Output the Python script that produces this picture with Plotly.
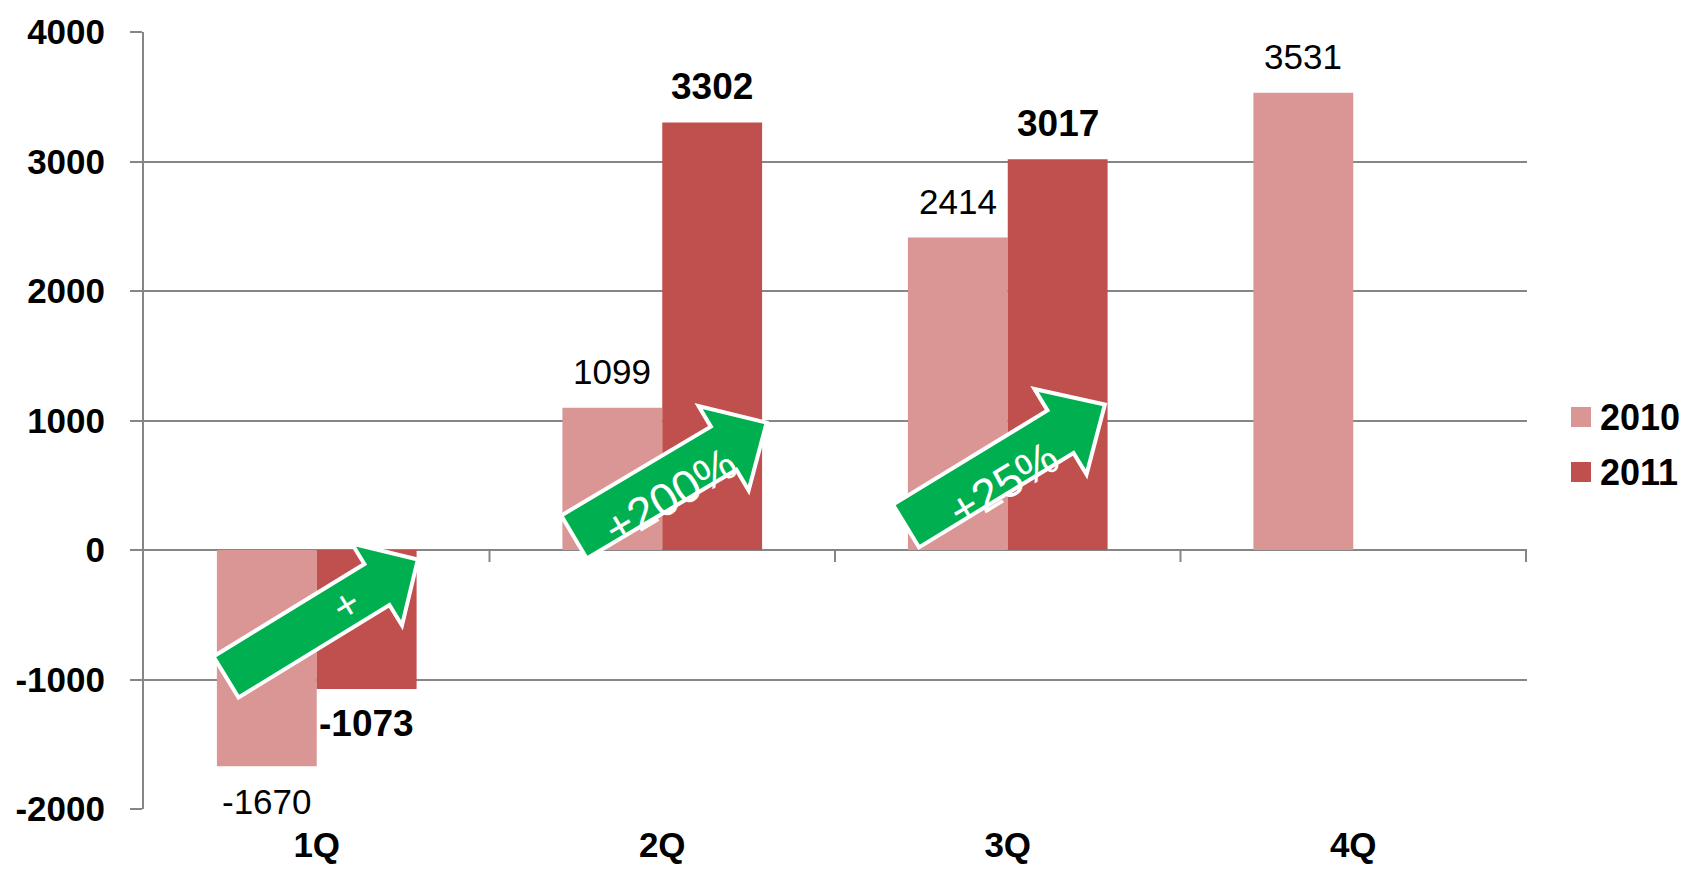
import math
import plotly.graph_objects as go

# ---- data ----
categories = ["1Q", "2Q", "3Q", "4Q"]
series_names = ["2010", "2011"]
values_2010 = [-1670, 1099, 2414, 3531]
values_2011 = [-1073, 3302, 3017, None]
arrow_labels = ["+", "+200%", "+25%"]
y_ticks = [-2000, -1000, 0, 1000, 2000, 3000, 4000]

# ---- style ----
W, H = 1688, 869
PL, PR, PT, PB = 144, 1527, 32, 809
FONT = "Liberation Sans, Arial, sans-serif"
C2010 = "#D99694"
C2011 = "#C0504D"
GRID = "#868686"
GREEN = "#00B050"
BARGAP = 0.422
FS = 35


def to_paper(x, y):
    return (x - PL) / (PR - PL), (PB - y) / (PB - PT)


fig = go.Figure()
fig.add_trace(go.Bar(x=categories, y=values_2010, name=series_names[0],
                     marker=dict(color=C2010, line=dict(width=0)), showlegend=False))
fig.add_trace(go.Bar(x=categories, y=values_2011, name=series_names[1],
                     marker=dict(color=C2011, line=dict(width=0)), showlegend=False))

annotations = []
shapes = []

# data labels
bw = (1 - BARGAP) / 2
for vals, off, bold in [(values_2010, -bw / 2, False), (values_2011, bw / 2, True)]:
    for i, v in enumerate(vals):
        if v is None:
            continue
        txt = f"<b>{v}</b>" if bold else f"{v}"
        annotations.append(dict(x=i + off, y=v, xref="x", yref="y", text=txt,
                                showarrow=False, yshift=36 if v > 0 else -35,
                                font=dict(family=FONT, size=FS + (2 if bold else 0), color="black")))

# category boundary ticks on zero line
for k in range(len(categories)):
    shapes.append(dict(type="line", xref="x", yref="y", x0=k + 0.5, x1=k + 0.5,
                       ysizemode="pixel", yanchor=0, y0=0, y1=-12,
                       line=dict(color=GRID, width=2)))

# arrows (tail centre px, angle deg, length, shaft half-width, head half-width, head length)
arrow_geo = [((226, 677), 31.5, 225, 24, 48, 48),
             ((574, 537), 30.7, 224, 25, 49, 50),
             ((906, 526), 31.4, 233, 25, 50, 52)]
label_pos = [(321, 634), (670, 496), (1003, 484)]
label_size = [42, 46, 46]

for (T, ang, L, w, h, hl), lab, lp, ls in zip(arrow_geo, arrow_labels, label_pos, label_size):
    th = math.radians(ang)
    c, s = math.cos(th), math.sin(th)
    pts_local = [(0, -w), (L - hl, -w), (L - hl, -h), (L, 0), (L - hl, h), (L - hl, w), (0, w)]
    pts = []
    for u, v in pts_local:
        px = T[0] + u * c + v * s
        py = T[1] - u * s + v * c
        pts.append(to_paper(px, py))
    path = "M " + " L ".join(f"{x:.5f},{y:.5f}" for x, y in pts) + " Z"
    shapes.append(dict(type="path", xref="paper", yref="paper", path=path,
                       fillcolor=GREEN, line=dict(color="white", width=4), layer="above"))
    ax, ay = to_paper(*lp)
    annotations.append(dict(x=ax, y=ay, xref="paper", yref="paper", text=lab,
                            showarrow=False, textangle=-ang,
                            font=dict(family=FONT, size=ls, color="white")))

# custom legend
for name, col, yc in [(series_names[0], C2010, 417), (series_names[1], C2011, 472)]:
    x0, y0 = to_paper(1571, yc + 10)
    x1, y1 = to_paper(1591, yc - 10)
    shapes.append(dict(type="rect", xref="paper", yref="paper", x0=x0, x1=x1, y0=y0, y1=y1,
                       fillcolor=col, line=dict(width=0)))
    tx, ty = to_paper(1598, yc)
    annotations.append(dict(x=tx, y=ty, xref="paper", yref="paper", text=f"<b>{name}</b>",
                            showarrow=False, xanchor="left", yanchor="middle",
                            font=dict(family=FONT, size=36, color="black")))

fig.update_layout(
    width=W, height=H,
    margin=dict(l=PL, r=W - PR, t=PT, b=H - PB, pad=0, autoexpand=False),
    paper_bgcolor="white", plot_bgcolor="white",
    barmode="group", bargap=BARGAP, bargroupgap=0,
    showlegend=False,
    annotations=annotations, shapes=shapes,
    font=dict(family=FONT, color="black"),
    xaxis=dict(showgrid=False, showline=False, ticks="", zeroline=False, automargin=False,
               tickvals=categories, ticktext=[f"<b>{c}</b>" for c in categories],
               tickfont=dict(family=FONT, size=FS, color="black"),
               ticklabelstandoff=12),
    yaxis=dict(range=[-2000, 4000], tickvals=y_ticks, ticktext=[f"<b>{t}</b>" for t in y_ticks],
               automargin=False,
               showgrid=True, gridcolor=GRID, gridwidth=2,
               zeroline=True, zerolinecolor=GRID, zerolinewidth=2,
               showline=True, linecolor=GRID, linewidth=2,
               ticks="outside", ticklen=12, tickwidth=2, tickcolor=GRID,
               tickfont=dict(family=FONT, size=FS, color="black"),
               ticklabelstandoff=18),
)

fig.write_html("out.html", config={"displayModeBar": False},
               post_script="document.body.style.margin='0';document.body.style.overflow='hidden';")
